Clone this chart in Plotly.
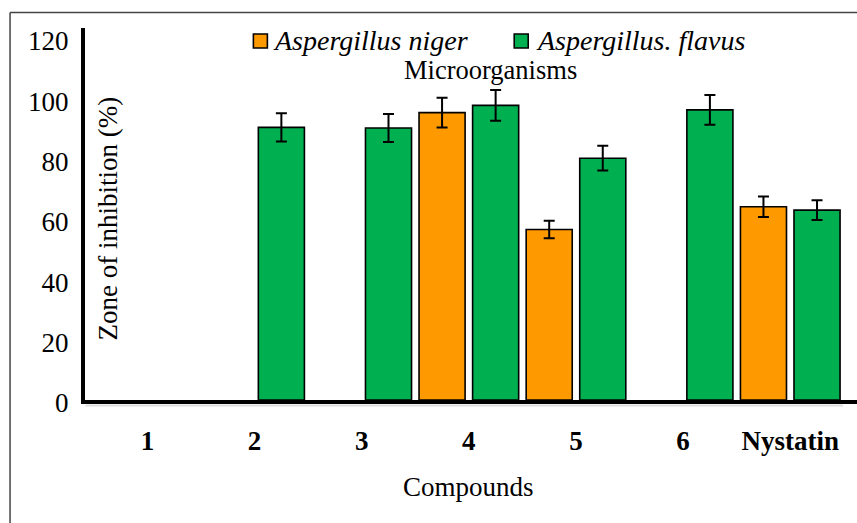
import plotly.graph_objects as go

# ---- data ----
compounds = ["1", "2", "3", "4", "5", "6", "Nystatin"]
niger_vals = [0, 0, 0, 95.2, 56.5, 0, 64.0]
niger_err = [0, 0, 0, 4.9, 2.9, 0, 3.4]
flavus_vals = [0, 90.3, 90.1, 97.6, 80.1, 96.1, 62.9]
flavus_err = [0, 4.7, 4.6, 5.1, 4.1, 4.9, 3.3]
y_ticks = [0, 20, 40, 60, 80, 100, 120]

ORANGE = "#FF9900"
GREEN = "#00B050"
FONT = "Liberation Serif"

W, H = 857, 523
L, R, T, B = 84.5, 0, 28, 123
PW = W - L - R
PH = H - T - B
Y0 = H - B  # pixel of y=0


def px_x(p):
    return (p - L) / PW


def px_y(p):
    return (Y0 - p) / PH


def shown(vals):
    # zero means no bar drawn in the original
    return [v if v > 0 else None for v in vals]


fig = go.Figure()
fig.add_trace(go.Bar(
    x=compounds, y=shown(niger_vals), name="Aspergillus niger",
    marker=dict(color=ORANGE, line=dict(color="black", width=1.6)),
    error_y=dict(type="data", array=niger_err, visible=True,
                 color="black", thickness=2, width=5.5),
    showlegend=False,
))
fig.add_trace(go.Bar(
    x=compounds, y=shown(flavus_vals), name="Aspergillus. flavus",
    marker=dict(color=GREEN, line=dict(color="black", width=1.6)),
    error_y=dict(type="data", array=flavus_err, visible=True,
                 color="black", thickness=2, width=5.5),
    showlegend=False,
))

cat_px = 107.2
first_center_px = 147
x_left = -(first_center_px - L) / cat_px
x_right = x_left + PW / cat_px
y_top = PH / 3.019


def ann(text, x, y, size, xanchor="center", angle=0):
    return dict(text=text, x=px_x(x), y=px_y(y), xref="paper", yref="paper",
                xanchor=xanchor, yanchor="middle", textangle=angle, showarrow=False,
                font=dict(family=FONT, size=size, color="black"))


annotations = [
    ann("Zone of inhibition (%)", 108, 218, 27, angle=-90),
    ann("Compounds", 468, 487, 27),
    ann("Microorganisms", 490, 70, 26.5),
    ann("<i>Aspergillus niger</i>", 271, 41, 28, xanchor="left"),
    ann("<i>Aspergillus. flavus</i>", 534, 41, 28, xanchor="left"),
]

shapes = [
    # legend swatches
    dict(type="rect", xref="paper", yref="paper", x0=px_x(253), x1=px_x(267),
         y0=px_y(48), y1=px_y(34), fillcolor=ORANGE, line=dict(color="black", width=1.6)),
    dict(type="rect", xref="paper", yref="paper", x0=px_x(514), x1=px_x(528),
         y0=px_y(48), y1=px_y(34), fillcolor=GREEN, line=dict(color="black", width=1.6)),
    # outer frame (cropped on right and bottom)
    dict(type="line", xref="paper", yref="paper", x0=px_x(9.5), x1=px_x(857),
         y0=px_y(12.5), y1=px_y(12.5), line=dict(color="#444444", width=1.5)),
    dict(type="line", xref="paper", yref="paper", x0=px_x(9.5), x1=px_x(9.5),
         y0=px_y(12.5), y1=px_y(523), line=dict(color="#444444", width=1.5)),
    # soft shadow under the x-axis
    dict(type="line", xref="paper", yref="paper", x0=px_x(85), x1=px_x(843),
         y0=px_y(405.5), y1=px_y(405.5), line=dict(color="#dddddd", width=2)),
]

fig.update_layout(
    width=W, height=H,
    margin=dict(l=L, r=R, t=T, b=B, pad=0),
    paper_bgcolor="white", plot_bgcolor="white",
    barmode="group", bargap=0.0, bargroupgap=0.14,
    font=dict(family=FONT, color="black"),
    annotations=annotations, shapes=shapes,
    xaxis=dict(
        type="category", range=[x_left, x_right],
        showline=True, linecolor="black", linewidth=4,
        showgrid=False, zeroline=False, ticks="",
        tickfont=dict(family=FONT, size=27, color="black", weight="bold"),
        ticklabelstandoff=14,
    ),
    yaxis=dict(
        range=[0, y_top], tickvals=y_ticks,
        showline=True, linecolor="black", linewidth=4,
        showgrid=False, zeroline=False, ticks="",
        tickfont=dict(family=FONT, size=27, color="black"),
        ticklabelstandoff=7, ticklabelshift=3,
    ),
)

fig.write_html("out.html")
